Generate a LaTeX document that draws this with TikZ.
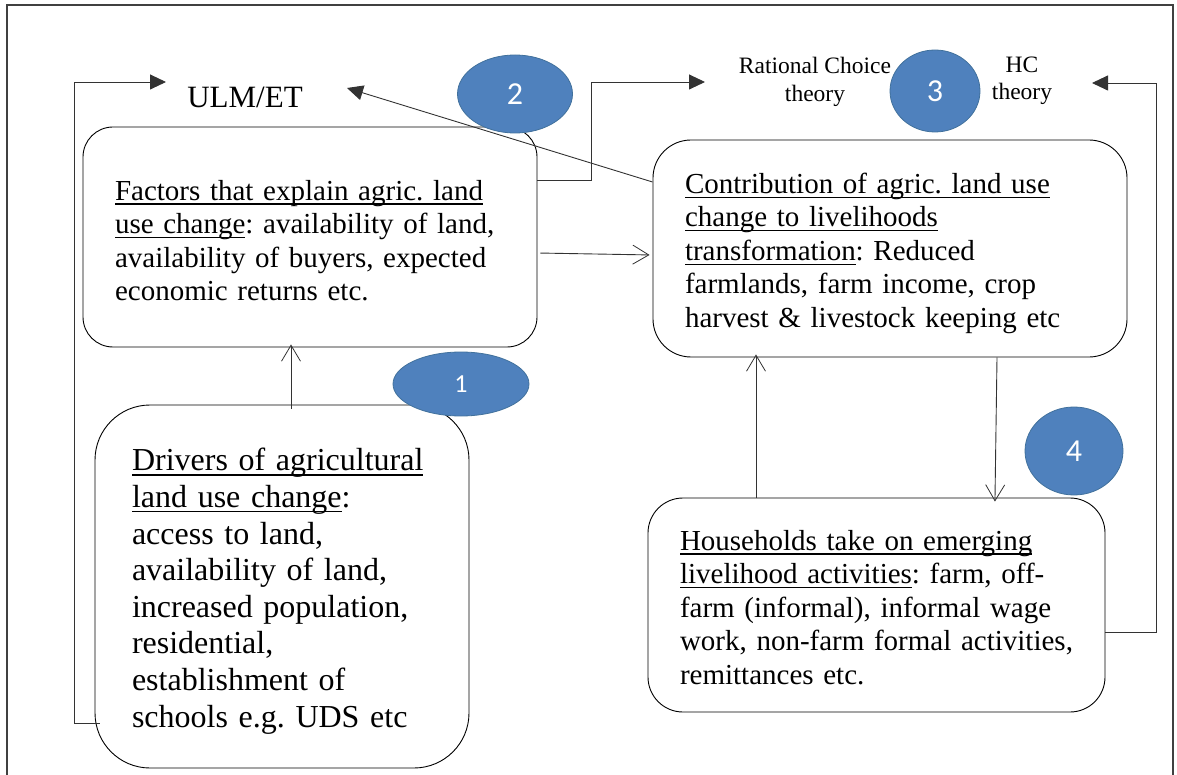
\documentclass[tikz,border=0pt]{standalone}
\usepackage{fontspec}
\setmainfont{Liberation Serif}
\newfontfamily\numfont{Carlito}
\usetikzlibrary{arrows.meta,shapes.geometric}
\definecolor{numblue}{HTML}{4F81BD}
\definecolor{numedge}{HTML}{41719C}
\newsavebox\ulbox
\newcommand{\myul}[1]{\leavevmode\sbox\ulbox{#1}\rlap{\rule[-4.6pt]{\wd\ulbox}{1.4pt}}\usebox\ulbox}
\newcommand{\topstrut}[1]{\rule{0pt}{#1}}
\frenchspacing
\begin{document}
\begin{tikzpicture}[x=1pt,y=-1pt,
  box/.style={draw=black, line width=0.9pt, align=left, inner xsep=32pt, inner ysep=0pt,
    font=\fontsize{29}{33.5}\selectfont\frenchspacing},
  num/.style={ellipse, fill=numblue, draw=numedge, line width=0.8pt, text=white,
    inner sep=0pt, font=\numfont\fontsize{32}{32}\selectfont},
  conn/.style={draw=black!80, line width=0.9pt},
  solidtip/.style={-{Triangle[length=16pt,width=15pt]}},
  opentip/.style={-{Straight Barb[length=16pt,width=19pt,line width=0.8pt]}},
  lbl/.style={align=center, inner sep=0pt}
]
\useasboundingbox (0,0) rectangle (1177,775);
\begin{scope}
\clip (0,0) rectangle (1177,775);
\draw[line width=1.2pt, black!75] (7,5) rectangle (1173,800);
\end{scope}

% boxes
\node[box, rounded corners=30pt, minimum width=454pt, text width=390pt, minimum height=220pt] (A) at (310,237)
 {\topstrut{27pt}\myul{Factors that explain agric. land}\\
  \myul{use change}: availability of land,\\
  availability of buyers, expected\\
  economic returns etc.};
\node[box, rounded corners=38pt, minimum width=474pt, text width=410pt, minimum height=217pt] (B) at (890,248.5)
 {\topstrut{30pt}\myul{Contribution of agric. land use}\\
  \myul{change to livelihoods}\\
  \myul{transformation}: Reduced\\
  farmlands, farm income, crop\\
  harvest \& livestock keeping etc};
\node[box, rounded corners=55pt, inner xsep=37pt, minimum width=374pt, text width=300pt, minimum height=363pt,
  font=\fontsize{32}{36.6}\selectfont\frenchspacing] (C) at (282,586.5)
 {\topstrut{32pt}\myul{Drivers of agricultural}\\
  \myul{land use change}:\\
  access to land,\\
  availability of land,\\
  increased population,\\
  residential,\\
  establishment of\\
  schools e.g. UDS etc};
\node[box, rounded corners=35pt, minimum width=457pt, text width=393pt, minimum height=214pt] (D) at (876.5,605)
 {\topstrut{25pt}\myul{Households take on emerging}\\
  \myul{livelihood activities}: farm, off-\\
  farm (informal), informal wage\\
  work, non-farm formal activities,\\
  remittances etc.};

% labels
\node[lbl, font=\fontsize{31}{34}\selectfont] (ULM) at (245,97) {ULM/ET};
\node[lbl, font=\fontsize{23.5}{27.5}\selectfont] (RC) at (815,82) {Rational Choice\\theory};
\node[lbl, font=\fontsize{23.5}{27.5}\selectfont] (HC) at (1022,81) {HC\\theory};

% numbered ellipses
\node[num, minimum width=115pt, minimum height=78pt] (E2) at (515,94) {2};
\node[num, minimum width=90pt, minimum height=82pt] (E3) at (935,91) {3};
\node[num, minimum width=136pt, minimum height=64pt, font=\numfont\fontsize{26}{26}\selectfont] (E1) at (461,384) {1};
\node[num, minimum width=98pt, minimum height=88pt] (E4) at (1074,451) {4};

% connectors
\coordinate (ulmIn) at (166,82);
\coordinate (rcIn) at (705,82);
\coordinate (hcIn) at (1092,83);
\coordinate (ulmTip) at (347,88);

\draw[conn,solidtip] (C.west |- 0,723) ++(5,0) -- (74,723) |- (ulmIn);
\draw[conn,solidtip] (B.west |- 0,182) -- (ulmTip);
\draw[conn,solidtip] (A.east |- 0,180) -- (591,180) |- (rcIn);
\draw[conn,solidtip] (D.east |- 0,632) -- (1156,632) |- (hcIn);
\draw[conn,opentip,shorten <=3pt,shorten >=3pt] (A.east |- 0,253) -- (B.west |- 0,255);
\draw[conn,opentip,shorten <=-4pt,shorten >=-3pt] (C.north -| 291,0) -- (A.south -| 291,0);
\draw[conn,opentip,shorten >=-3pt] (D.north -| 756,0) -- (B.south -| 756,0);
\draw[conn,opentip,shorten >=-4pt] (B.south -| 997,0) -- (D.north -| 995,0);
\end{tikzpicture}
\end{document}
